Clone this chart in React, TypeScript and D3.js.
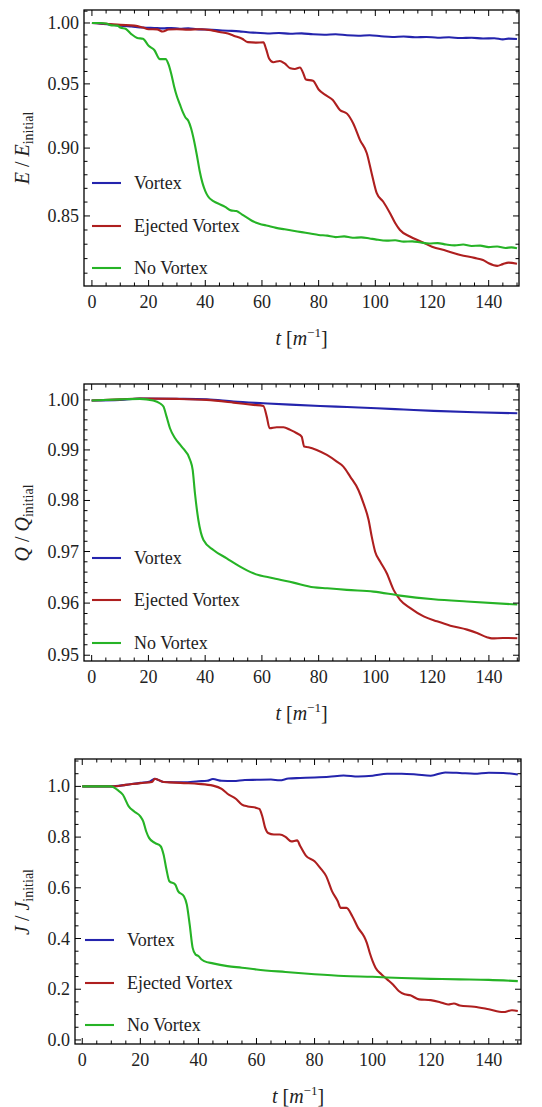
import React from 'react';
import * as d3 from 'd3';

type Pt = [number, number];

// shared stuff
const timeTicks = [0, 20, 40, 60, 80, 100, 120, 140];
const seriesNames = ['Vortex', 'Ejected Vortex', 'No Vortex'];
const seriesColors = ['#2424ad', '#ae1f1f', '#26b326'];

const energyTicks = [0.85, 0.9, 0.95, 1.0];
const chargeTicks = [0.95, 0.96, 0.97, 0.98, 0.99, 1.0];
const angularTicks = [0, 0.2, 0.4, 0.6, 0.8, 1.0];

// E / E_initial
const energyVortex: Pt[] = [
  [0, 1.0], [3, 0.9995], [6, 0.9988], [10, 0.9978], [14, 0.997], [18, 0.9962], [22, 0.9958],
  [25, 0.9955], [28, 0.9958], [31, 0.9952], [34, 0.9956], [37, 0.9948], [40, 0.9945], [44, 0.994],
  [48, 0.9935], [52, 0.993], [55, 0.9922], [58, 0.9918], [62, 0.9912], [66, 0.9916], [70, 0.991],
  [74, 0.9913], [78, 0.9905], [82, 0.9902], [86, 0.9906], [90, 0.9897], [94, 0.9893], [98, 0.9897],
  [102, 0.9889], [106, 0.9883], [110, 0.9887], [114, 0.988], [118, 0.9883], [122, 0.9877],
  [126, 0.988], [130, 0.9874], [134, 0.9877], [138, 0.987], [142, 0.9872], [145, 0.9863],
  [147, 0.9869], [150, 0.9866],
];
const energyEjected: Pt[] = [
  [0, 1.0], [5, 0.9993], [10, 0.9984], [15, 0.9978], [18, 0.9962], [20, 0.9948], [23, 0.9946],
  [25, 0.9928], [27, 0.9945], [30, 0.9948], [34, 0.9944], [38, 0.9948], [42, 0.994], [45, 0.9925],
  [48, 0.9912], [50, 0.9893], [53, 0.9868], [55, 0.984], [58, 0.9836], [60.5, 0.9838], [61.5, 0.978],
  [62.5, 0.9705], [64, 0.9675], [66.3, 0.9685], [68, 0.9665], [70, 0.9626], [71.6, 0.962],
  [73.4, 0.9632], [74.5, 0.959], [75.5, 0.9535], [78, 0.9525], [80, 0.9455], [82.5, 0.941],
  [85, 0.9372], [87.5, 0.9294], [90, 0.9265], [92.3, 0.9185], [94.6, 0.9061], [97, 0.8961],
  [98.7, 0.8812], [100.5, 0.8665], [102.8, 0.8602], [105.2, 0.852], [107, 0.845], [108.7, 0.84],
  [112.2, 0.8354], [116, 0.832], [120, 0.8283], [125, 0.8255], [130, 0.8225], [135, 0.8205],
  [138, 0.819], [140, 0.8168], [143, 0.815], [145, 0.8162], [147, 0.8172], [150, 0.8165],
];
const energyNone: Pt[] = [
  [0, 1.0], [3, 1.0], [5, 0.9995], [7, 0.998], [9, 0.9978], [10, 0.9962], [12, 0.995], [14, 0.9905],
  [16, 0.9875], [18, 0.9868], [20, 0.981], [22, 0.9775], [24, 0.97], [26, 0.97], [27, 0.966],
  [28, 0.958], [29, 0.948], [30, 0.94], [31, 0.934], [32, 0.928], [33, 0.9235], [34, 0.921],
  [35, 0.915], [36, 0.906], [37, 0.895], [38, 0.883], [39, 0.874], [40, 0.868], [41, 0.864],
  [43, 0.8605], [45, 0.8585], [47, 0.8565], [49, 0.854], [51, 0.8535], [53, 0.851], [55, 0.8485],
  [57, 0.846], [59, 0.8445], [62, 0.843], [65, 0.8415], [68, 0.8405], [71, 0.8395], [74, 0.8385],
  [77, 0.8375], [80, 0.8365], [83, 0.836], [86, 0.835], [89, 0.8355], [92, 0.8345], [95, 0.8348],
  [98, 0.834], [100, 0.8334], [104, 0.8325], [107, 0.8328], [110, 0.8318], [113, 0.832],
  [116, 0.8312], [119, 0.8305], [122, 0.8308], [125, 0.8298], [128, 0.8292], [131, 0.8298],
  [134, 0.8288], [137, 0.829], [140, 0.828], [143, 0.8284], [146, 0.8274], [148, 0.8278], [150, 0.8272],
];

// Q / Q_initial
const chargeVortex: Pt[] = [
  [0, 0.99987], [10, 0.99998], [17, 1.00027], [30, 1.00022], [40.5, 1.00013], [50, 0.99967],
  [60.5, 0.99933], [70, 0.99905], [80.5, 0.99879], [90, 0.99857], [100.5, 0.99833], [110, 0.99807],
  [120.5, 0.99779], [135, 0.99752], [150, 0.99732],
];
const chargeEjected: Pt[] = [
  [0, 0.99987], [10, 1.0001], [17, 1.00027], [30, 1.0002], [40.5, 1.0], [50, 0.99946], [57, 0.999],
  [60.5, 0.99879], [61.7, 0.99665], [62.7, 0.99432], [65.2, 0.99452], [67.6, 0.99452], [70, 0.99399],
  [72.3, 0.99332], [74, 0.99265], [74.9, 0.99066], [76.4, 0.99053], [79.3, 0.99], [82.9, 0.989],
  [86.4, 0.98768], [88.7, 0.98669], [91.1, 0.98471], [94, 0.98207], [95.8, 0.97944], [97.6, 0.97617],
  [98.7, 0.9729], [99.9, 0.96997], [101.7, 0.96803], [104, 0.96577], [106.4, 0.96256],
  [108.7, 0.96063], [112.3, 0.95904], [117, 0.95744], [121.7, 0.95649], [126.4, 0.95566],
  [132.3, 0.9549], [135.8, 0.95427], [139.3, 0.95344], [141, 0.95322], [145, 0.9533], [150, 0.95325],
];
const chargeNone: Pt[] = [
  [0, 0.99987], [10, 1.0001], [17, 1.0002], [21.7, 0.99987], [24, 0.99933], [25.3, 0.99866],
  [26.4, 0.99665], [27.6, 0.99432], [29.4, 0.99232], [31.7, 0.99066], [34.7, 0.98801],
  [35.6, 0.98603], [36.4, 0.98142], [37.6, 0.97617], [39.4, 0.97226], [42.9, 0.97031],
  [47.6, 0.96868], [52.3, 0.96706], [57, 0.96577], [64, 0.9648], [71.1, 0.96396], [78.2, 0.96306],
  [83, 0.96287], [89.9, 0.96255], [99.3, 0.96222], [108.7, 0.96145], [120.5, 0.96075],
  [132.2, 0.9603], [150, 0.95973],
];

// J / J_initial
const angularVortex: Pt[] = [
  [0, 1.0], [10, 1.0], [15, 1.006], [20, 1.014], [23, 1.018], [25, 1.03], [28, 1.017], [35, 1.016],
  [40, 1.02], [43, 1.022], [45, 1.029], [48, 1.022], [52, 1.021], [56, 1.025], [60, 1.026],
  [65, 1.027], [68, 1.024], [71, 1.031], [75, 1.033], [80, 1.035], [85, 1.038], [90, 1.043],
  [95, 1.039], [100, 1.042], [105, 1.05], [110, 1.05], [115, 1.047], [120, 1.042], [125, 1.055],
  [130, 1.053], [135, 1.05], [140, 1.054], [145, 1.053], [150, 1.047],
];
const angularEjected: Pt[] = [
  [0, 1.0], [10, 1.0], [15, 1.006], [20, 1.013], [24, 1.017], [25, 1.03], [28, 1.017], [30, 1.016],
  [35, 1.013], [40, 1.01], [45, 1.003], [48, 0.99], [50, 0.971], [53, 0.95], [55, 0.928],
  [57, 0.921], [60, 0.915], [61, 0.911], [62, 0.882], [63, 0.836], [64, 0.816], [66, 0.81],
  [68, 0.81], [70, 0.801], [72, 0.783], [74, 0.787], [75, 0.766], [77, 0.727], [80, 0.705],
  [82, 0.678], [84, 0.646], [86, 0.587], [88, 0.547], [89, 0.521], [91, 0.521], [93, 0.488],
  [95, 0.442], [97, 0.409], [98, 0.383], [99, 0.344], [100, 0.311], [101, 0.285], [103, 0.259],
  [105, 0.239], [107, 0.219], [109, 0.193], [111, 0.18], [113, 0.176], [116, 0.16], [120, 0.157],
  [123, 0.15], [126, 0.14], [128, 0.144], [130, 0.136], [135, 0.131], [140, 0.121], [145, 0.11],
  [148, 0.117], [150, 0.114],
];
const angularNone: Pt[] = [
  [0, 1.0], [10, 1.0], [12, 0.987], [14, 0.967], [16, 0.921], [18, 0.9], [20, 0.882], [21, 0.862],
  [22, 0.823], [23, 0.797], [25, 0.777], [27, 0.764], [28, 0.731], [29, 0.672], [30, 0.626],
  [32, 0.613], [33, 0.587], [35, 0.567], [36, 0.534], [37, 0.455], [38, 0.364], [39, 0.337],
  [40, 0.331], [41, 0.318], [42, 0.311], [45, 0.302], [50, 0.291], [55, 0.285], [60, 0.278],
  [70, 0.268], [80, 0.259], [90, 0.252], [100, 0.249], [110, 0.244], [120, 0.241], [130, 0.239],
  [140, 0.237], [150, 0.232],
];

const FONT = "'Times New Roman', 'DejaVu Serif', serif";

function Panel(p: any) {
  const x = d3.scaleLinear().domain(p.xDomain).range([p.left, p.right]);
  const y = (p.log ? d3.scaleLog() : d3.scaleLinear()).domain(p.yDomain).range([p.bottom, p.top]);
  const line = d3.line<Pt>().x(d => x(d[0])).y(d => y(d[1])).curve(d3.curveMonotoneX);
  const xMinor = d3.range(0, 151, 5);
  return (
    <g style={{ fontFamily: FONT }}>
      <defs>
        <clipPath id={'clip' + p.id}>
          <rect x={p.left} y={p.top} width={p.right - p.left} height={p.bottom - p.top} />
        </clipPath>
      </defs>
      <g clipPath={`url(#clip${p.id})`}>
        {p.series.map((s: Pt[], i: number) => (
          <path key={i} d={line(s) || ''} fill="none" stroke={seriesColors[i]} strokeWidth={2.1}
            strokeLinejoin="round" />
        ))}
      </g>
      {/* ticks on all four sides */}
      {xMinor.map(t => {
        const len = t % 20 === 0 ? 6 : 3.5;
        return (
          <g key={'x' + t} stroke="#000" strokeWidth={1}>
            <line x1={x(t)} x2={x(t)} y1={p.bottom} y2={p.bottom - len} />
            <line x1={x(t)} x2={x(t)} y1={p.top} y2={p.top + len} />
          </g>
        );
      })}
      {p.yMinor.map((v: number) => {
        const major = p.yTicks.some((m: number) => Math.abs(m - v) < 1e-6);
        const len = major ? 6 : 3.5;
        return (
          <g key={'y' + v} stroke="#000" strokeWidth={1}>
            <line x1={p.left} x2={p.left + len} y1={y(v)} y2={y(v)} />
            <line x1={p.right} x2={p.right - len} y1={y(v)} y2={y(v)} />
          </g>
        );
      })}
      <rect x={p.left} y={p.top} width={p.right - p.left} height={p.bottom - p.top}
        fill="none" stroke="#000" strokeWidth={1.3} />
      {timeTicks.map(t => (
        <text key={'xl' + t} x={x(t)} y={p.bottom + 22} textAnchor="middle" fontSize={18}
          fill="#222">{t}</text>
      ))}
      {p.yTicks.map((v: number) => (
        <text key={'yl' + v} x={p.left - 5} y={y(v) + 6} textAnchor="end" fontSize={18}
          fill="#222">{v.toFixed(p.digits)}</text>
      ))}
      {/* legend */}
      {seriesNames.map((n, i) => (
        <g key={n}>
          <line x1={p.legendX} x2={p.legendX + 29} y1={p.legendY[i]} y2={p.legendY[i]}
            stroke={seriesColors[i]} strokeWidth={2.1} />
          <text x={p.legendX + 42} y={p.legendY[i] + 6} fontSize={18} fill="#222">{n}</text>
        </g>
      ))}
      {/* axis labels */}
      <text x={(p.left + p.right) / 2} y={p.bottom + 59} textAnchor="middle" fontSize={20} fill="#222">
        <tspan fontStyle="italic">t</tspan>
        <tspan> [</tspan>
        <tspan fontStyle="italic">m</tspan>
        <tspan fontSize={13} dy={-8}>−1</tspan>
        <tspan dy={8}>]</tspan>
      </text>
      <text transform={`translate(29,${p.labelY}) rotate(-90)`} textAnchor="middle" fontSize={20}
        fill="#222">
        <tspan fontStyle="italic">{p.sym}</tspan>
        <tspan> / </tspan>
        <tspan fontStyle="italic">{p.sym}</tspan>
        <tspan fontSize={14} dy={4}>initial</tspan>
      </text>
    </g>
  );
}

export default function App() {
  const panels = [
    {
      id: 1, left: 84, right: 519, top: 10, bottom: 286, xDomain: [-2.8, 150.7],
      log: true, yDomain: [0.8013, 1.011], yTicks: energyTicks, digits: 2,
      yMinor: d3.range(81, 102).map(k => k / 100),
      series: [energyVortex, energyEjected, energyNone],
      legendX: 92, legendY: [183, 226, 268], sym: 'E', labelY: 148,
    },
    {
      id: 2, left: 84, right: 519, top: 384, bottom: 661, xDomain: [-2.7, 150.6],
      log: true, yDomain: [0.9489, 1.0032], yTicks: chargeTicks, digits: 2,
      yMinor: d3.range(475, 502).map(k => k / 500),
      series: [chargeVortex, chargeEjected, chargeNone],
      legendX: 92, legendY: [558, 600, 643], sym: 'Q', labelY: 523,
    },
    {
      id: 3, left: 75, right: 521, top: 759, bottom: 1044, xDomain: [-2.5, 151.1],
      log: false, yDomain: [-0.016, 1.108], yTicks: angularTicks, digits: 1,
      yMinor: d3.range(0, 23).map(k => k / 20),
      series: [angularVortex, angularEjected, angularNone],
      legendX: 85, legendY: [940, 983, 1025], sym: 'J', labelY: 902,
    },
  ];
  return (
    <svg width={542} height={1107} style={{ position: 'absolute', left: 0, top: 0, background: '#fff' }}>
      <rect width={542} height={1107} fill="#fff" />
      {panels.map(p => <Panel key={p.id} {...p} />)}
    </svg>
  );
}
